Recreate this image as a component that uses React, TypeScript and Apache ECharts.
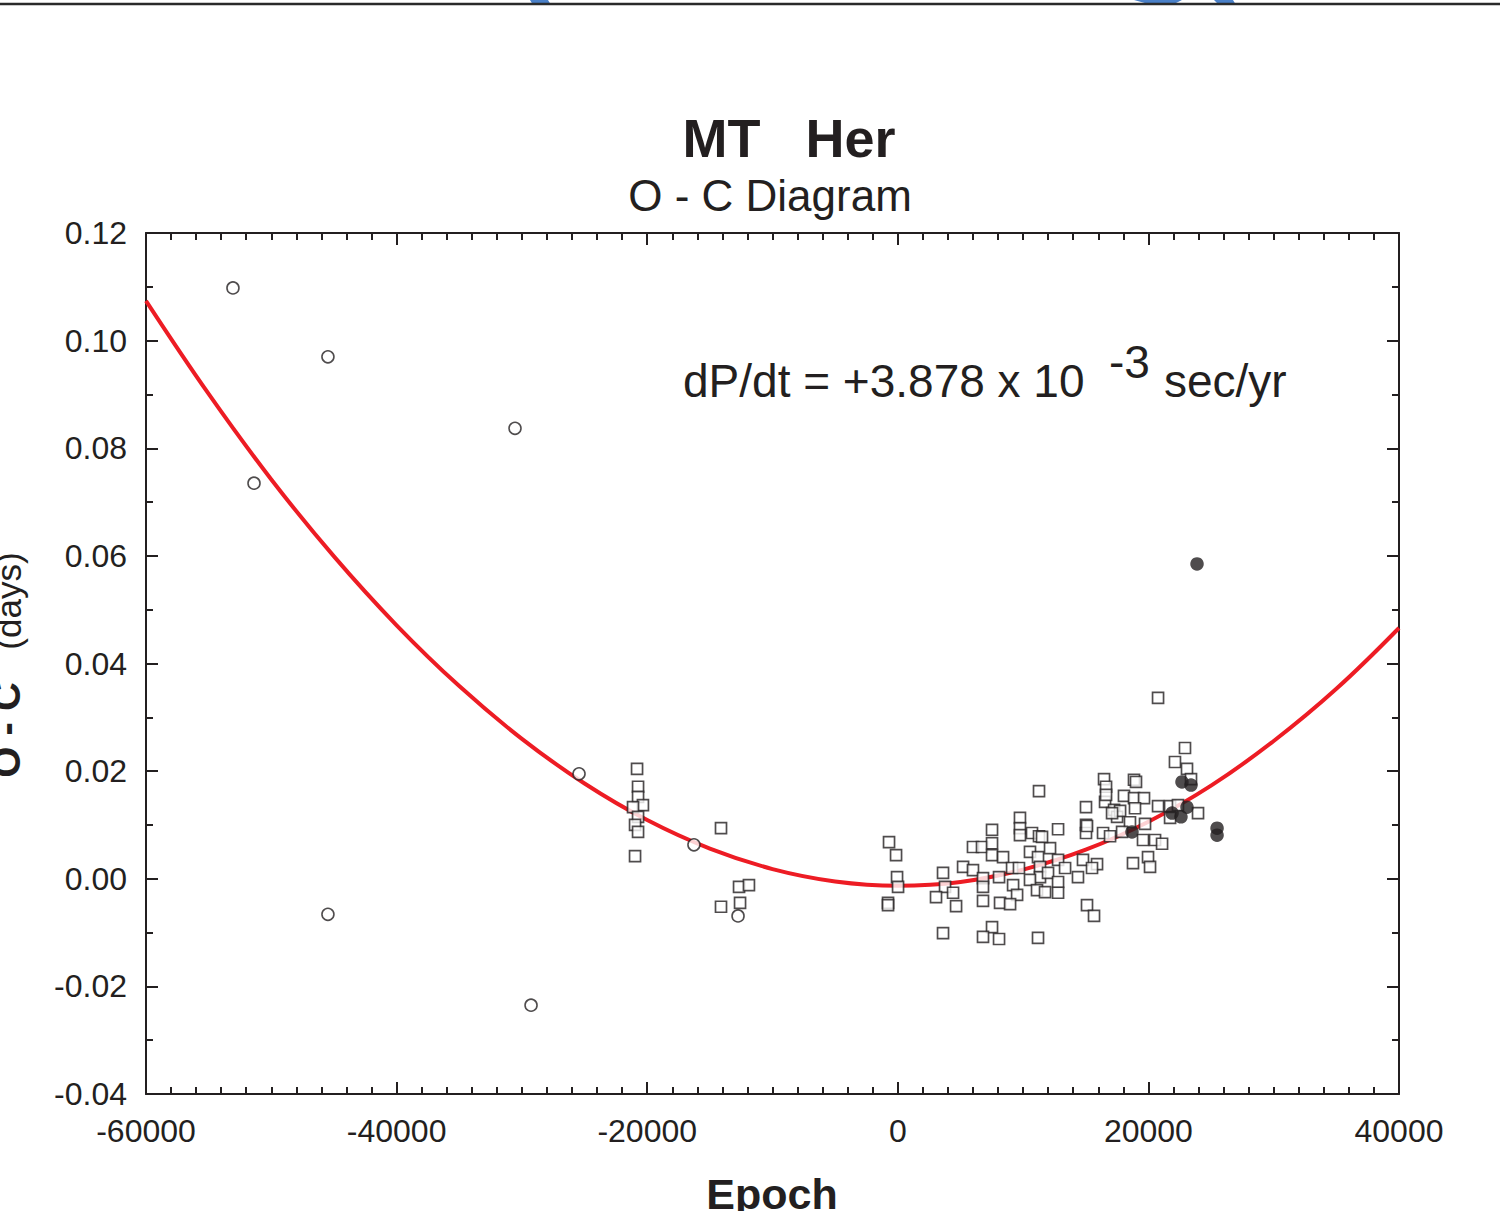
import React, { useEffect, useRef } from "react";
import * as echarts from "echarts";

// ---- Data (Epoch, O-C in days) ----
const fitEpoch = [
  -60000, -55000, -50000, -45000, -40000, -35000, -30000, -25000, -20000, -15000, -10000,
  -5000, 0, 5000, 10000, 15000, 20000, 25000, 30000, 35000, 40000,
];
const fitOC = [
  0.1074, 0.0901, 0.0742, 0.0599, 0.0471, 0.0358, 0.026, 0.0177, 0.0109, 0.0056, 0.0018,
  -0.0005, -0.0013, -0.0006, 0.0017, 0.0054, 0.0106, 0.0173, 0.0256, 0.0353, 0.0466,
];

const visualPoints: number[][] = [
  [-53060, 0.1098], [-45480, 0.0970], [-51380, 0.0735], [-30550, 0.0837],
  [-25440, 0.0195], [-16270, 0.0063], [-45480, -0.0066], [-29270, -0.0235],
  [-12750, -0.0069],
];

const ccdPoints: number[][] = [
  [-20810, 0.0204], [-20730, 0.0171], [-20730, 0.0152], [-20340, 0.0137], [-21130, 0.0133],
  [-20730, 0.0115], [-20970, 0.0100], [-20730, 0.0087], [-20970, 0.0042],
  [-14110, 0.0094], [-14110, -0.0052], [-12670, -0.0015], [-11880, -0.0012], [-12590, -0.0045],
  [-700, 0.0068], [-140, 0.0044], [-60, 0.0003], [20, -0.0015], [-780, -0.0045], [-780, -0.0049],
  [3610, 0.0011], [3770, -0.0015], [3050, -0.0034], [4410, -0.0026], [4650, -0.0051],
  [3610, -0.0101], [5210, 0.0022], [6000, 0.0059], [6000, 0.0016], [6720, 0.0059],
  [7520, 0.0091], [7520, 0.0066], [7520, 0.0044], [8400, 0.004], [6800, 0.0001],
  [6800, -0.0015], [6800, -0.0041], [8080, 0.0003], [9120, 0.002], [9670, 0.002],
  [9200, -0.0012], [9520, -0.003], [8160, -0.0045], [8960, -0.0047], [7520, -0.009],
  [6800, -0.0108], [8080, -0.0112], [9750, 0.0113], [9750, 0.0094], [9750, 0.0081],
  [10710, 0.0085], [11270, 0.0079], [10550, 0.005], [11190, 0.004], [12150, 0.0057],
  [12790, 0.0035], [14780, 0.0035], [15900, 0.0027], [15500, 0.002], [13350, 0.002],
  [14380, 0.0003], [11350, 0.0022], [11350, 0.0003], [11990, 0.0011], [10550, -0.0002],
  [11110, -0.0021], [11750, -0.0025], [12790, -0.0006], [12790, -0.0026], [11190, -0.011],
  [15100, -0.0049], [15660, -0.0069], [12790, 0.0092], [15020, 0.0133], [16540, 0.0143],
  [15020, 0.01], [15020, 0.0085], [16380, 0.0085], [16940, 0.0079], [17260, 0.0128],
  [17500, 0.0115], [11270, 0.0163], [11510, 0.0078],
  [20770, 0.0336], [22920, 0.0243], [22120, 0.0217], [23080, 0.0204], [23400, 0.0185],
  [16460, 0.0185], [16620, 0.0171], [16620, 0.0156], [18850, 0.0184], [19010, 0.018],
  [18050, 0.0154], [18850, 0.015], [19650, 0.015], [18930, 0.0131], [17740, 0.0126],
  [17100, 0.0122], [18530, 0.0105], [19730, 0.0102], [20770, 0.0135], [21730, 0.0135],
  [22360, 0.0137], [23960, 0.0122], [21730, 0.0113], [15100, 0.0098], [17900, 0.0087],
  [19570, 0.0072], [20530, 0.0072], [21090, 0.0065], [19970, 0.004], [20130, 0.0022],
  [18770, 0.0029],
];

const pePoints: number[][] = [
  [23880, 0.0585], [22680, 0.018], [23400, 0.0174], [21890, 0.0122], [22600, 0.0115],
  [23080, 0.0133], [18690, 0.0087], [25480, 0.0094], [25480, 0.0081],
];

const xTicks = { min: -60000, max: 40000, step: 20000 };
const yTicks = { min: -0.04, max: 0.12, step: 0.02 };

const INK = "#231f20";
const FONT = "'Liberation Sans', Arial, sans-serif";

export default function App() {
  const ref = useRef<HTMLDivElement>(null);

  useEffect(() => {
    if (!ref.current) return;
    const chart = echarts.init(ref.current, undefined, { renderer: "svg" });

    const axisCommon = {
      type: "value" as const,
      axisLine: { show: true, onZero: false, lineStyle: { color: INK, width: 2 } },
      axisTick: { show: true, inside: true, length: 12, lineStyle: { color: INK, width: 2 } },
      minorTick: { show: true, length: 7, lineStyle: { color: INK, width: 2 } },
      splitLine: { show: false },
      minorSplitLine: { show: false },
    };

    const xAxisBase = {
      ...axisCommon,
      min: xTicks.min,
      max: xTicks.max,
      interval: xTicks.step,
      minorTick: { ...axisCommon.minorTick, splitNumber: 10 },
    };
    const yAxisBase = {
      ...axisCommon,
      min: yTicks.min,
      max: yTicks.max,
      interval: yTicks.step,
      minorTick: { ...axisCommon.minorTick, splitNumber: 2 },
    };

    const txt = (
      x: number,
      y: number,
      text: string,
      size: number,
      weight: string,
      align: string,
      extra: any = {}
    ) => ({
      type: "text",
      x,
      y,
      ...extra,
      style: {
        text,
        fontSize: size,
        fontWeight: weight,
        fontFamily: FONT,
        fill: INK,
        align,
        verticalAlign: "middle",
      },
    });

    chart.setOption({
      animation: false,
      backgroundColor: "#ffffff",
      grid: { left: 146, right: 101, top: 233, bottom: 117, containLabel: false },
      xAxis: [
        {
          ...xAxisBase,
          position: "bottom",
          axisLabel: {
            show: true,
            color: INK,
            fontSize: 32,
            fontFamily: FONT,
            margin: 21,
            formatter: (v: number) => String(v),
          },
        },
        { ...xAxisBase, position: "top", axisLabel: { show: false } },
      ],
      yAxis: [
        {
          ...yAxisBase,
          position: "left",
          axisLabel: {
            show: true,
            color: INK,
            fontSize: 32,
            fontFamily: FONT,
            margin: 19,
            formatter: (v: number) => v.toFixed(2),
          },
        },
        { ...yAxisBase, position: "right", axisLabel: { show: false } },
      ],
      series: [
        {
          type: "line",
          data: fitEpoch.map((e, i) => [e, fitOC[i]]),
          smooth: 0.4,
          showSymbol: false,
          symbol: "none",
          lineStyle: { color: "#ed1c24", width: 4 },
          z: 1,
        },
        {
          type: "scatter",
          data: visualPoints,
          symbol: "circle",
          symbolSize: 12,
          itemStyle: { color: "#ffffff", borderColor: INK, borderWidth: 1.6 },
          z: 3,
        },
        {
          type: "scatter",
          data: ccdPoints,
          symbol: "rect",
          symbolSize: 11,
          itemStyle: { color: "#ffffff", borderColor: INK, borderWidth: 1.7 },
          z: 3,
        },
        {
          type: "scatter",
          data: pePoints,
          symbol: "circle",
          symbolSize: 13.5,
          itemStyle: { color: INK, borderColor: INK, borderWidth: 0 },
          z: 4,
        },
      ],
      graphic: [
        { type: "polygon", shape: { points: [[530, 0], [548, 0], [551, 5], [533, 5]] }, style: { fill: "#4a80c8" } },
        { type: "polygon", shape: { points: [[1134, 0], [1182, 0], [1172, 5], [1152, 5]] }, style: { fill: "#4a80c8" } },
        { type: "polygon", shape: { points: [[1214, 0], [1233, 0], [1236, 5], [1219, 5]] }, style: { fill: "#4a80c8" } },
        { type: "line", shape: { x1: 0, y1: 4, x2: 1500, y2: 4 }, style: { stroke: "#2a2a2a", lineWidth: 2.5 } },
        txt(789, 138, "MT   Her", 54, "bold", "center"),
        txt(770, 195, "O - C Diagram", 44, "normal", "center"),
        txt(683, 381, "dP/dt = +3.878 x 10", 46, "normal", "left"),
        txt(1109, 362, "-3", 46, "normal", "left"),
        txt(1164, 381, "sec/yr", 46, "normal", "left"),
        txt(772, 1194, "Epoch", 43, "bold", "center"),
        txt(6, 730, "O - C", 40, "bold", "center", { rotation: Math.PI / 2 }),
        txt(8, 601, "(days)", 35, "normal", "center", { rotation: Math.PI / 2 }),
      ],
    });

    return () => chart.dispose();
  }, []);

  return (
    <div
      ref={ref}
      style={{ position: "absolute", left: 0, top: 0, width: 1500, height: 1211 }}
    />
  );
}
